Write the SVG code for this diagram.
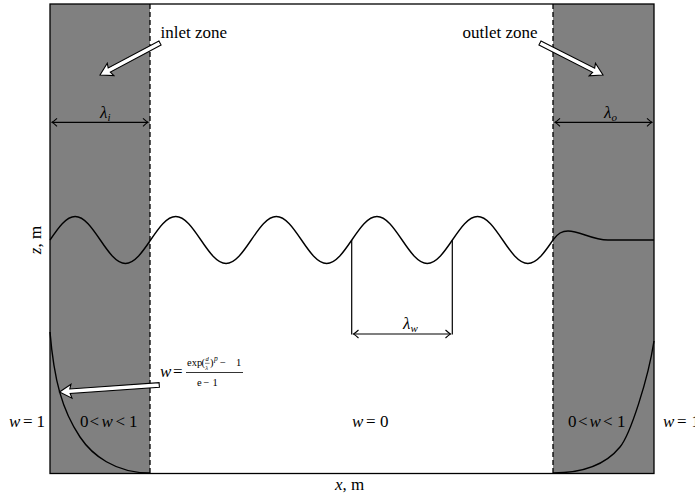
<svg xmlns="http://www.w3.org/2000/svg" width="695" height="500" viewBox="0 0 695 500">
<style>
text{font-family:"Liberation Serif","DejaVu Serif",serif;fill:#000;font-size:17px}
.it{font-style:italic}
.zone{fill:#808080;stroke:none}
.dash{stroke:#000;stroke-width:1.3;stroke-dasharray:5,3;fill:none}
.ln{stroke:#000;stroke-width:1.2;fill:none}
.curve{stroke:#000;stroke-width:1.4;fill:none}
.hollow{fill:#fff;stroke:#000;stroke-width:1.1;stroke-linejoin:miter}
.dim{stroke:#000;stroke-width:1.2;fill:none;marker-start:url(#tip);marker-end:url(#tip)}
text.num{font-size:10.5px}
text.tiny{font-size:6.5px}
text.sup{font-size:7.5px}
.sub{font-size:11px}
</style>
<defs>
<marker id="tip" viewBox="-6 -5 8 10" refX="0" refY="0" markerWidth="8" markerHeight="10" markerUnits="userSpaceOnUse" orient="auto-start-reverse">
<path d="M-5,-4 Q-1.5,-0.8 0,0 Q-1.5,0.8 -5,4" fill="none" stroke="#000" stroke-width="1.1"/>
</marker>
</defs>

<g id="zones">
<rect class="zone" x="50" y="4" width="100" height="469.5"/>
<rect class="zone" x="553" y="4" width="101" height="469.5"/>
<rect x="50" y="4" width="604" height="469.5" fill="none" stroke="#000" stroke-width="1.3"/>
<line class="dash" x1="150" y1="4" x2="150" y2="473.5"/>
<line class="dash" x1="553" y1="4" x2="553" y2="473.5"/>
</g>

<g id="connectors">
<path id="wave" class="curve" d="M50,240
c8.2,-12.04 16.05,-23.5 25.15,-23.5 c9.1,0 16.95,11.46 25.15,23.5 c8.2,12.04 16.05,23.5 25.15,23.5 c9.1,0 16.95,-11.46 25.15,-23.5
c8.2,-12.04 16.05,-23.5 25.15,-23.5 c9.1,0 16.95,11.46 25.15,23.5 c8.2,12.04 16.05,23.5 25.15,23.5 c9.1,0 16.95,-11.46 25.15,-23.5
c8.2,-12.04 16.05,-23.5 25.15,-23.5 c9.1,0 16.95,11.46 25.15,23.5 c8.2,12.04 16.05,23.5 25.15,23.5 c9.1,0 16.95,-11.46 25.15,-23.5
c8.2,-12.04 16.05,-23.5 25.15,-23.5 c9.1,0 16.95,11.46 25.15,23.5 c8.2,12.04 16.05,23.5 25.15,23.5 c9.1,0 16.95,-11.46 25.15,-23.5
c8.2,-12.04 16.05,-23.5 25.15,-23.5 c9.1,0 16.95,11.46 25.15,23.5 c8.2,12.04 16.05,23.5 25.15,23.5 c9.1,0 16.95,-11.46 25.15,-23.5
C558,233 562,231 568,231 C580,231 592,240 608,240 L654,240"/>
<path id="w-inlet" class="curve" d="M50,332 C54,380 62,410 80,437 C92,455 115,473 150,473"/>
<path id="w-outlet" class="curve" d="M553,473 C585,473 607,463 620,447 C630,435 648,380 654,341"/>
<line class="ln" x1="351.7" y1="240" x2="351.7" y2="334.5"/>
<line class="ln" x1="452.3" y1="240" x2="452.3" y2="334.5"/>
<line class="dim" x1="52" y1="122.3" x2="148" y2="122.3"/>
<line class="dim" x1="555" y1="122.3" x2="652" y2="122.3"/>
<line class="dim" x1="353.5" y1="334" x2="450.5" y2="334"/>
<path class="hollow" transform="translate(100,75) rotate(-28.07)" d="M0,0 L12,-7 L10.5,-2.3 L68,-2.3 L68,2.3 L10.5,2.3 L12,7 Z"/>
<path class="hollow" transform="translate(603,75) rotate(-153.07)" d="M0,0 L12,-7 L10.5,-2.3 L70.7,-2.3 L70.7,2.3 L10.5,2.3 L12,7 Z"/>
<path class="hollow" transform="translate(59.5,392) rotate(-4.04)" d="M0,0 L12,-7 L10.5,-2.3 L100,-2.3 L100,2.3 L10.5,2.3 L12,7 Z"/>
</g>

<g id="labels">
<text x="160.5" y="38">inlet zone</text>
<text x="462.5" y="38">outlet zone</text>
<text x="100" y="118" class="it">λ<tspan class="sub" dy="3">i</tspan></text>
<text x="604" y="118" class="it">λ<tspan class="sub" dy="3">o</tspan></text>
<text x="403" y="329" class="it">λ<tspan class="sub" dy="3">w</tspan></text>
<text transform="translate(41,240) rotate(-90)" text-anchor="middle"><tspan class="it">z</tspan>, m</text>
<text x="335" y="490"><tspan class="it">x</tspan>, m</text>
<text x="9" y="427"><tspan class="it">w</tspan><tspan x="23">=</tspan><tspan x="36.5">1</tspan></text>
<text x="80" y="427">0<tspan x="89.5">&lt;</tspan><tspan x="101.5" class="it">w</tspan><tspan x="115.5">&lt;</tspan><tspan x="129">1</tspan></text>
<text x="352" y="427"><tspan class="it">w</tspan><tspan x="366">=</tspan><tspan x="380">0</tspan></text>
<text x="568" y="427">0<tspan x="578">&lt;</tspan><tspan x="589.5" class="it">w</tspan><tspan x="603">&lt;</tspan><tspan x="617">1</tspan></text>
<text x="663" y="427"><tspan class="it">w</tspan><tspan x="677">=</tspan><tspan x="691.5">1</tspan></text>
</g>

<g id="formula">
<text x="160" y="377" class="it">w</text>
<text x="173" y="377">=</text>
<line x1="186" y1="372.5" x2="243" y2="372.5" stroke="#000" stroke-width="0.8"/>
<text x="187" y="366" class="num">exp</text>
<text x="201.5" y="366" class="num">(</text>
<text x="205.6" y="361" class="tiny it">d</text>
<line x1="205" y1="363.3" x2="209.6" y2="363.3" stroke="#000" stroke-width="0.5"/>
<text x="205.3" y="369.5" class="tiny it">λ</text>
<text x="210" y="366" class="num">)</text>
<text x="214" y="360.5" class="sup it">p</text>
<text x="220" y="366" class="num">−</text>
<text x="236" y="366" class="num">1</text>
<text x="197" y="386" class="num">e</text>
<text x="203.5" y="386" class="num">−</text>
<text x="212.5" y="386" class="num">1</text>
</g>
</svg>
